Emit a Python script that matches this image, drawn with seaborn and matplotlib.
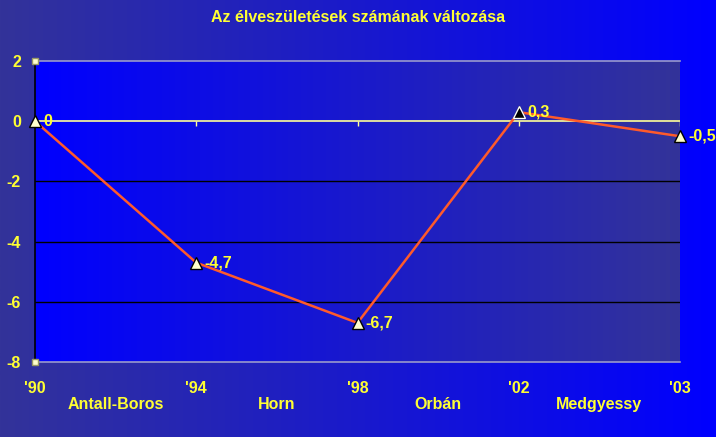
import numpy as np
import pandas as pd
import matplotlib
matplotlib.use("Agg")
import matplotlib.pyplot as plt
import matplotlib.transforms as mtransforms
import seaborn as sns

# data
years = ["'90", "'94", "'98", "'02", "'03"]
values = [0, -4.7, -6.7, 0.3, -0.5]
governments = ["Antall-Boros", "Horn", "Orbán", "Medgyessy"]
title = "Az élveszületések számának változása"

sns.set_theme(style="white")
plt.rcParams['font.family'] = ['Liberation Sans', 'DejaVu Sans']
plt.rcParams['axes.unicode_minus'] = False

YELLOW = "#ffff33"
DARK = np.array([0x33, 0x33, 0x99]) / 255
BRIGHT = np.array([0x00, 0x00, 0xff]) / 255


def gradient(c0, c1, n=256):
    t = np.linspace(0, 1, n)[None, :, None]
    return c0 + (c1 - c0) * t


fig = plt.figure(figsize=(7.16, 4.37), dpi=100)

# figure background gradient (dark on the left, bright blue on the right)
bg = fig.add_axes([0, 0, 1, 1], zorder=-10)
bg.imshow(gradient(DARK, BRIGHT), aspect="auto", extent=[0, 1, 0, 1])
bg.set_axis_off()

ax = fig.add_axes([35 / 716, 1 - 362 / 437, 645 / 716, 301 / 437])
ax.set_facecolor("none")

df = pd.DataFrame({"pos": range(len(years)), "value": values})
sns.lineplot(data=df, x="pos", y="value", ax=ax, color="#ff5a2a", lw=1.8,
             marker="^", markersize=9, markerfacecolor="#ffffcc",
             markeredgecolor="black", markeredgewidth=1, zorder=5, clip_on=False)
# the '02 marker is drawn dark in the original
dark = df[df["pos"] == 3]
ax.plot(dark["pos"], dark["value"], ls="none", marker="^", ms=9,
        markerfacecolor="black", markeredgecolor="white",
        markeredgewidth=1, zorder=10, clip_on=False)

ax.set_xlim(0, len(years) - 1)
ax.set_ylim(-8, 2)

# plot area gradient (bright blue left, darker right)
ax.imshow(gradient(BRIGHT, DARK), aspect="auto",
          extent=[0, len(years) - 1, -8, 2], zorder=0)

for y in [-2, -4, -6]:
    ax.axhline(y, color="black", lw=1, zorder=1)
ax.axhline(0, color="#ffff99", lw=1.2, zorder=2)
ax.vlines(range(len(years)), -0.15, 0, color="#ffff99", lw=1, zorder=2)

for side in ["top", "bottom"]:
    ax.spines[side].set_color("#9999cc")
    ax.spines[side].set_linewidth(1.2)
ax.spines["right"].set_visible(False)
ax.spines["left"].set_color("black")
ax.spines["left"].set_linewidth(1.2)

ax.plot([0, 0], [2, -8], ls="none", marker="s", ms=4, mfc="#ffffcc",
        mec="#999966", clip_on=False, zorder=7)

ax.set_yticks([2, 0, -2, -4, -6, -8])
ax.tick_params(axis="y", length=0, pad=10, labelcolor=YELLOW, labelsize=11.5)
ax.set_xticks(range(len(years)))
ax.set_xticklabels(years)
ax.tick_params(axis="x", length=0, pad=14, labelcolor=YELLOW, labelsize=11.5)
for lbl in ax.get_xticklabels() + ax.get_yticklabels():
    lbl.set_fontweight("bold")
ax.set_xlabel("")
ax.set_ylabel("")

# data labels
for i, v in enumerate(values):
    ax.annotate(f"{v:g}".replace(".", ","), (i, v), xytext=(6, 0),
                textcoords="offset points", ha="left", va="center",
                color=YELLOW, fontsize=11.5, fontweight="bold", zorder=11,
                annotation_clip=False)

# government names between year ticks
trans = mtransforms.blended_transform_factory(ax.transData, ax.transAxes)
for i, name in enumerate(governments):
    ax.text(i + 0.5, -0.14, name, transform=trans, ha="center", va="center",
            color=YELLOW, fontsize=11.5, fontweight="bold")

fig.text(0.5, 1 - 17 / 437, title, ha="center", va="center",
         color=YELLOW, fontsize=11.5, fontweight="bold")

fig.savefig("out.png", dpi=100)
